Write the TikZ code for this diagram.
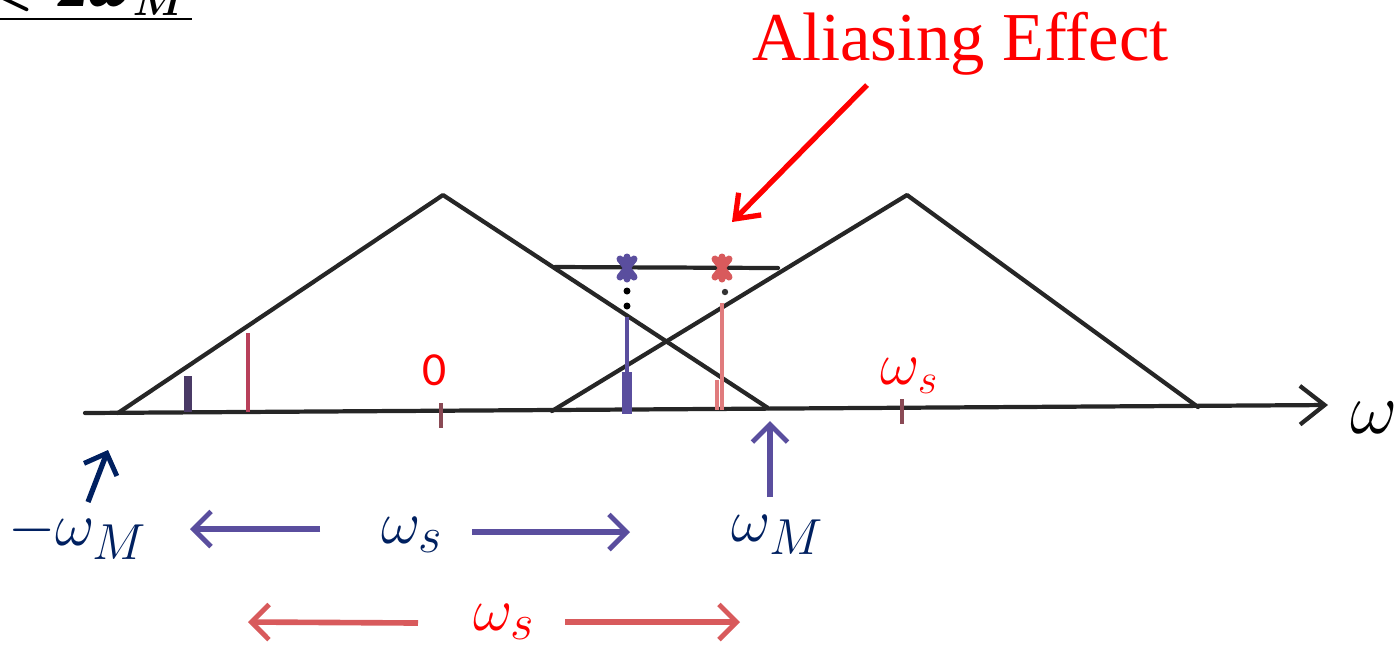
\documentclass[tikz,border=0pt]{standalone}
\usepackage{fontspec}
\usepackage{tikz}
\usetikzlibrary{arrows.meta,positioning,calc}
\newfontfamily\timesfont{Liberation Serif}
\newfontfamily\calfont{Carlito}
\definecolor{navy}{HTML}{002060}
\definecolor{alired}{HTML}{FF0000}
\definecolor{penblue}{HTML}{5A4E9E}
\definecolor{penred}{HTML}{D85A5C}
\definecolor{penrose}{HTML}{B8405A}
\definecolor{penplum}{HTML}{4A3A66}
\definecolor{pentick}{HTML}{8A4A55}
\renewcommand\defaultscriptratio{.8}

\begin{document}
\begin{tikzpicture}[x=0.01cm,y=-0.01cm,
  pen/.style={line width=1.2pt,black!85,line cap=round,line join=round},
  omega/.style={font=\fontsize{19}{22}\selectfont,inner sep=0pt},
  barb/.style={-{Straight Barb[length=5pt,width=10pt,line width=1.4pt]}},
  bluearrow/.style={barb,penblue,line width=1.6pt},
  redarrow/.style={barb,penred,line width=1.6pt},
  cross/.style={line width=2pt,line cap=round}]
\useasboundingbox (0,0) rectangle (1396,650);
\clip (0,0) rectangle (1396,650);

% condition cut off at the top
\node[anchor=base east,inner sep=0pt,font=\fontsize{16}{19}\selectfont] (cond) at (188,6) {{\boldmath$<2\omega_M$}};
\draw[line width=0.8pt] (0,19) -- (192,19);

% frequency axis
\coordinate (ax0) at (85,413);
\coordinate (ax1) at (1328,405);
\draw[pen,-{Straight Barb[length=7pt,width=11pt,line width=1.2pt]}] (ax0) -- (ax1);
\node[omega,anchor=west,font=\fontsize{21}{24}\selectfont] (w) at (1350,418) {$\omega$};
\draw[pentick,line width=1.3pt] (441,403) -- (441,428);
\draw[pentick,line width=1.3pt] (902,399) -- (902,424);

% the two spectra
\coordinate (apexA) at (443,195);
\coordinate (apexB) at (907,195);
\draw[pen] (118,413) -- (apexA) -- (768,408);
\draw[pen] (552,411) -- (apexB) -- (1198,407);
\draw[pen] (555,267) -- (778,268);

% sample lines
\draw[penplum,line width=2pt] (188,376) -- (188,412);
\draw[penrose,line width=1.3pt] (248,333) -- (248,412);
\draw[penblue,line width=1.3pt] (627,317) -- (627,410);
\draw[penblue,line width=3pt] (627,372) -- (627,414);
\draw[penred!80,line width=1.2pt] (722,303) -- (722,410);
\draw[penred!80,line width=1.2pt] (717,380) -- (717,410);
\draw[penblue,cross] (620,259) -- (634,277) (620,277) -- (634,259) (627,257) -- (627,279);
\draw[penred,cross] (715,259) -- (729,277) (715,277) -- (729,259) (722,257) -- (722,279);
\fill[black] (627,291) circle (3.5) (627,306) circle (3.5);
\fill[black!80] (725,292) circle (3.2);

% labels on the axis
\node[omega,text=alired,font=\calfont\fontsize{13.5}{16}\selectfont] (zero) at (435,370) {0};
\node[omega,text=alired,font=\fontsize{16}{18}\selectfont] (wsa) at (910,376) {$\omega_s$};

% labels below
\node[omega,text=navy] (wmin) at (78,535) {$-\omega_M$};
\node[omega,text=navy] (wsb) at (413,535) {$\omega_s$};
\node[omega,text=navy] (wmax) at (778,535) {$\omega_M$};
\node[omega,text=alired] (wsr) at (505,622) {$\omega_s$};

\coordinate (wminTail) at (88,502);
\coordinate (wminTip) at (108,450);
\draw[navy,line width=1.5pt,barb] (wminTail) -- (wminTip);
\coordinate (wmaxTail) at (770,497);
\coordinate (wmaxTip) at (770,421);
\draw[penblue,line width=1.5pt,barb] (wmaxTail) -- (wmaxTip);

\coordinate (bl0) at (320,529);
\coordinate (bl1) at (190,529);
\coordinate (br0) at (472,532);
\coordinate (br1) at (630,532);
\draw[bluearrow] (bl0) -- (bl1);
\draw[bluearrow] (br0) -- (br1);
\coordinate (rl0) at (418,623);
\coordinate (rl1) at (248,622);
\coordinate (rr0) at (565,622);
\coordinate (rr1) at (740,622);
\draw[redarrow] (rl0) -- (rl1);
\draw[redarrow] (rr0) -- (rr1);

% aliasing note
\node[anchor=base west,inner sep=0pt,text=alired,font=\timesfont\fontsize{19.5}{22}\selectfont] (alias) at (752,60) {Aliasing Effect};
\coordinate (aliasTail) at (867,85);
\coordinate (aliasTip) at (732,222);
\draw[alired,line width=1.5pt,-{Straight Barb[length=6pt,width=9pt,line width=1.5pt]}] (aliasTail) -- (aliasTip);
\end{tikzpicture}
\end{document}
